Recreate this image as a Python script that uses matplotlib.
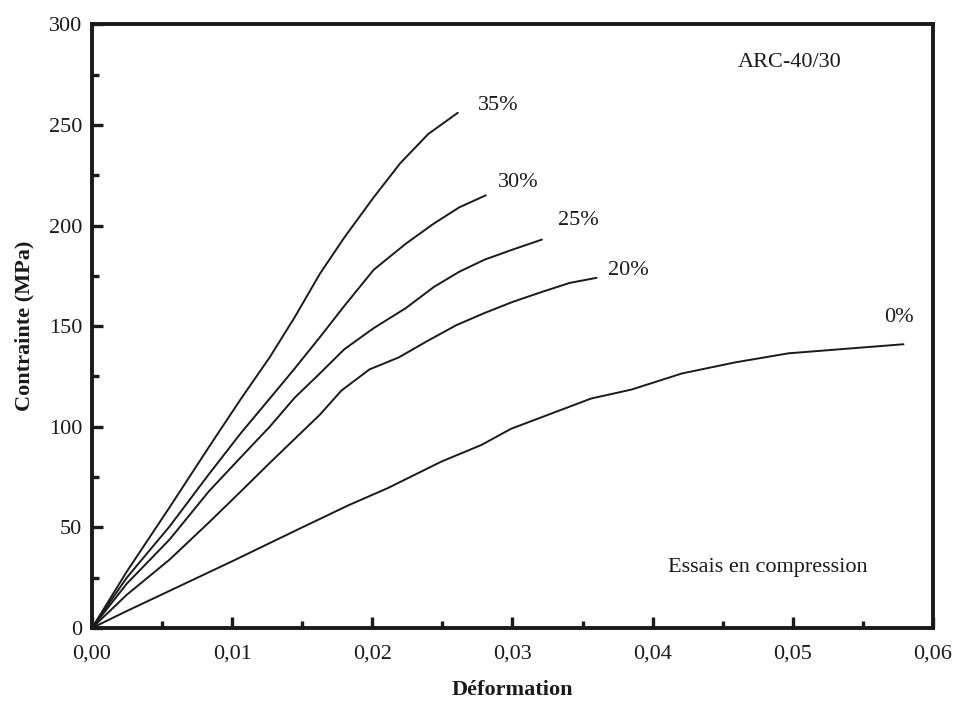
import matplotlib
matplotlib.use("Agg")
import matplotlib.pyplot as plt
from matplotlib.ticker import MultipleLocator, FixedLocator

plt.rcParams['font.family'] = ['Liberation Serif', 'DejaVu Serif']

# Data (strain, stress in MPa)
eps_35 = [0, 0.00248, 0.00554, 0.00835, 0.01064, 0.01268, 0.01447, 0.01626, 0.0180, 0.0201, 0.0220, 0.0240, 0.0261]
sig_35 = [0, 28, 60, 90, 114, 134.5, 154.5, 176, 194, 214, 231, 245.5, 256]

eps_30 = [0, 0.00248, 0.00554, 0.00835, 0.01064, 0.01268, 0.01447, 0.01626, 0.0180, 0.0201, 0.0224, 0.0244, 0.0262, 0.0281]
sig_30 = [0, 25, 50.5, 76.5, 97, 114, 129, 144.5, 160, 178, 191, 201, 209, 215]

eps_25 = [0, 0.00248, 0.00554, 0.00835, 0.01064, 0.01268, 0.01447, 0.01626, 0.0180, 0.0201, 0.0224, 0.0244, 0.0262, 0.0280, 0.0300, 0.0321]
sig_25 = [0, 22, 44, 68, 85, 100, 114.5, 126.5, 138.5, 149, 159, 169.5, 177, 183, 188, 193]

eps_20 = [0, 0.00248, 0.00554, 0.00835, 0.01064, 0.01268, 0.01447, 0.01626, 0.0178, 0.0198, 0.0219, 0.0239, 0.0260, 0.0280, 0.0300, 0.0321, 0.0341, 0.0360]
sig_20 = [0, 16.5, 34, 52.5, 68, 82, 94, 106, 118, 128.5, 134.5, 142.5, 150.5, 156.5, 162, 167, 171.5, 174]

eps_0 = [0, 0.0025, 0.0060, 0.0101, 0.0147, 0.0183, 0.0211, 0.0249, 0.0278, 0.0299, 0.0356, 0.0385, 0.0421, 0.0459, 0.0497, 0.0579]
sig_0 = [0, 8.5, 20, 33.5, 49, 61, 69.5, 82.6, 91, 99, 114, 118.5, 126.5, 132, 136.5, 141]

curve_labels = ['35%', '30%', '25%', '20%', '0%']
x_ticks = [0.00, 0.01, 0.02, 0.03, 0.04, 0.05, 0.06]
x_ticklabels = ['0,00', '0,01', '0,02', '0,03', '0,04', '0,05', '0,06']
y_ticks = [0, 50, 100, 150, 200, 250, 300]

fig = plt.figure(figsize=(9.54, 7.07), dpi=100)
ax = fig.add_axes([0.0964, 0.1117, 0.8815, 0.854])

ink = '#1a1a1a'
curves = [(eps_35, sig_35), (eps_30, sig_30), (eps_25, sig_25), (eps_20, sig_20), (eps_0, sig_0)]
for e, s in curves:
    ax.plot(e, s, color=ink, lw=1.4, solid_capstyle='round', solid_joinstyle='round')

label_pos = [(0.0290, 259.6), (0.0304, 221.5), (0.0347, 202.3), (0.0383, 177.6), (0.0576, 154.4)]
for lab, (lx, ly) in zip(curve_labels, label_pos):
    ax.text(lx, ly, lab, ha='center', va='center', fontsize=16, color=ink)

ax.text(0.0498, 280.9, 'ARC-40/30', ha='center', va='center', fontsize=16, color=ink)
ax.text(0.0482, 30.2, 'Essais en compression', ha='center', va='center', fontsize=16, color=ink)

ax.set_xlim(0, 0.06)
ax.set_ylim(0, 300)
ax.xaxis.set_major_locator(FixedLocator(x_ticks))
ax.set_xticklabels(x_ticklabels)
ax.xaxis.set_minor_locator(MultipleLocator(0.005))
ax.yaxis.set_major_locator(FixedLocator(y_ticks))
ax.yaxis.set_minor_locator(MultipleLocator(25))

ax.tick_params(which='major', direction='in', length=8, width=2.4, labelsize=16, colors=ink)
ax.tick_params(which='minor', direction='in', length=5, width=2.4, colors=ink)
ax.tick_params(axis='x', which='major', pad=12)
ax.tick_params(axis='y', which='major', pad=7)
for sp in ax.spines.values():
    sp.set_linewidth(2.8)
    sp.set_color(ink)

ax.set_xlabel('Déformation', fontsize=16, fontweight='bold', labelpad=12, color=ink)
ax.set_ylabel('Contrainte (MPa)', fontsize=16, fontweight='bold', labelpad=10, color=ink)

fig.savefig('out.png', dpi=100)
